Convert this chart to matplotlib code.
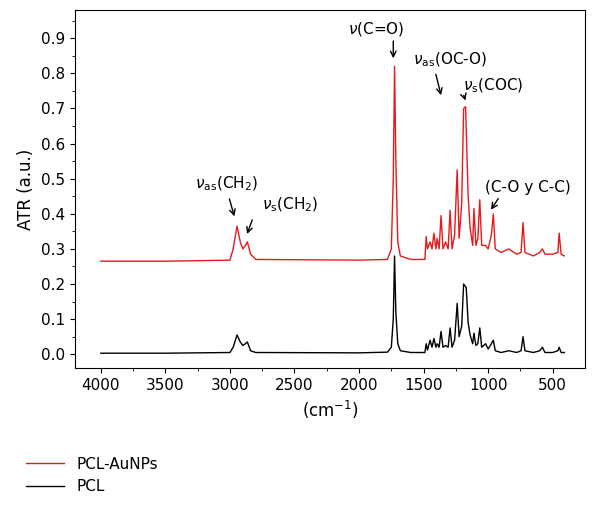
import numpy as np
import matplotlib.pyplot as plt

# PCL spectrum (wavenumber, ATR)
pcl_wn = [4000, 3500, 3000, 2975, 2945, 2920, 2900, 2880, 2865, 2840, 2800, 2000, 1780, 1750,
          1735, 1725, 1715, 1700, 1680, 1600, 1490, 1480, 1470, 1450, 1435, 1420, 1405, 1395,
          1380, 1365, 1350, 1330, 1310, 1295, 1280, 1260, 1240, 1225, 1205, 1190, 1170, 1155,
          1140, 1120, 1110, 1095, 1080, 1065, 1050, 1020, 1000, 975, 960, 945, 900, 840, 780,
          745, 730, 715, 650, 600, 580, 560, 500, 460, 450, 435, 410]
pcl_at = [0.003, 0.003, 0.005, 0.02, 0.055, 0.035, 0.025, 0.03, 0.035, 0.01, 0.005, 0.004, 0.006, 0.02,
          0.1, 0.28, 0.12, 0.03, 0.01, 0.005, 0.005, 0.03, 0.012, 0.04, 0.02, 0.045, 0.02, 0.03,
          0.02, 0.065, 0.02, 0.025, 0.02, 0.075, 0.02, 0.04, 0.145, 0.05, 0.08, 0.2, 0.19, 0.09,
          0.055, 0.03, 0.06, 0.025, 0.03, 0.075, 0.02, 0.03, 0.015, 0.03, 0.04, 0.01, 0.005, 0.01, 0.005,
          0.01, 0.05, 0.01, 0.005, 0.01, 0.02, 0.005, 0.005, 0.01, 0.02, 0.005, 0.005]

# PCL-AuNPs spectrum
red_wn = [4000, 3500, 3000, 2975, 2945, 2920, 2900, 2880, 2865, 2840, 2800, 2000, 1780, 1750,
          1735, 1725, 1715, 1700, 1680, 1600, 1490, 1480, 1470, 1450, 1435, 1420, 1405, 1395,
          1380, 1365, 1350, 1330, 1310, 1295, 1280, 1260, 1240, 1225, 1205, 1190, 1175, 1155,
          1140, 1120, 1110, 1095, 1080, 1065, 1050, 1020, 1000, 975, 960, 945, 900, 840, 780,
          745, 730, 715, 650, 600, 580, 560, 500, 460, 450, 435, 410]
red_at = [0.265, 0.265, 0.268, 0.3, 0.365, 0.32, 0.3, 0.31, 0.32, 0.285, 0.27, 0.268, 0.27, 0.3,
          0.5, 0.82, 0.55, 0.32, 0.28, 0.27, 0.27, 0.335, 0.3, 0.32, 0.3, 0.345, 0.3, 0.33,
          0.3, 0.395, 0.3, 0.32, 0.3, 0.41, 0.3, 0.34, 0.525, 0.33, 0.43, 0.7, 0.705, 0.45,
          0.36, 0.31, 0.415, 0.31, 0.33, 0.44, 0.31, 0.31, 0.3, 0.34, 0.4, 0.3, 0.29, 0.3, 0.285,
          0.29, 0.375, 0.29, 0.28, 0.29, 0.3, 0.285, 0.285, 0.29, 0.345, 0.285, 0.28]

fig = plt.figure(figsize=(6.0, 5.08), dpi=100)
ax = fig.add_axes([0.125, 0.275, 0.85, 0.705])

ax.plot(red_wn, red_at, color="#e8191c", lw=1.0)
ax.plot(pcl_wn, pcl_at, color="black", lw=1.0)

ax.set_xlim(4200, 250)
ax.set_ylim(-0.04, 0.98)
ax.set_xticks(np.arange(4000, 499, -500))
ax.set_yticks(np.arange(0, 0.91, 0.1))
ax.set_yticklabels([f"{v:.1f}" for v in np.arange(0, 0.91, 0.1)])
ax.set_xticks(np.arange(4000, 300, -250), minor=True)
ax.set_yticks(np.arange(0, 0.96, 0.05), minor=True)
ax.tick_params(labelsize=11)
ax.set_ylabel("ATR (a.u.)", fontsize=12)
ax.set_xlabel("(cm$^{-1}$)", fontsize=12)

ap = dict(arrowstyle="->", color="black", lw=1)
fs = 11
ax.text(3030, 0.485, r"$\nu_{\rm as}$(CH$_2$)", fontsize=fs, ha="center", va="center")
ax.annotate("", xy=(2960, 0.385), xytext=(3010, 0.45), arrowprops=ap)
ax.text(2530, 0.425, r"$\nu_{\rm s}$(CH$_2$)", fontsize=fs, ha="center", va="center")
ax.annotate("", xy=(2875, 0.335), xytext=(2820, 0.39), arrowprops=ap)
ax.text(1870, 0.925, r"$\nu$(C=O)", fontsize=fs, ha="center", va="center")
ax.annotate("", xy=(1735, 0.835), xytext=(1735, 0.9), arrowprops=ap)
ax.text(1300, 0.84, r"$\nu_{\rm as}$(OC-O)", fontsize=fs, ha="center", va="center")
ax.annotate("", xy=(1360, 0.73), xytext=(1410, 0.805), arrowprops=ap)
ax.text(960, 0.765, r"$\nu_{\rm s}$(COC)", fontsize=fs, ha="center", va="center")
ax.annotate("", xy=(1170, 0.715), xytext=(1195, 0.745), arrowprops=ap)
ax.text(690, 0.475, "(C-O y C-C)", fontsize=fs, ha="center", va="center")
ax.annotate("", xy=(990, 0.405), xytext=(910, 0.45), arrowprops=ap)

h1, = ax.plot([], [], color="#e8191c", lw=1.0)
h2, = ax.plot([], [], color="black", lw=1.0)
fig.legend([h1, h2], ["PCL-AuNPs", "PCL"], loc="lower left", bbox_to_anchor=(0.02, 0.0),
           frameon=False, fontsize=11, handlelength=2.5)

fig.savefig("out.png")
